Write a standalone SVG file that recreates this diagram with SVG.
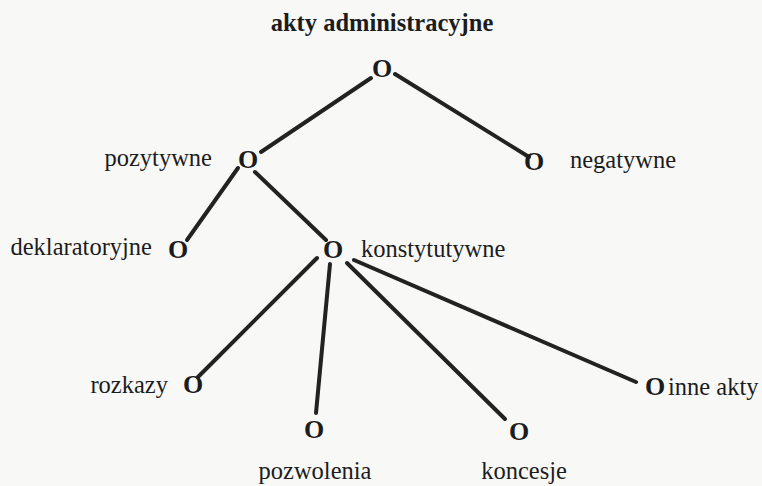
<svg xmlns="http://www.w3.org/2000/svg" width="762" height="486" viewBox="0 0 762 486">
<style>
.bg{fill:#f8f8f7}
text{font-family:'Liberation Serif','DejaVu Serif',serif;fill:#1c1c1c}
.t{font-size:24.5px}
.b{font-weight:bold}
.o{font-size:26px;font-weight:bold;text-anchor:middle}
.e{stroke:#222;stroke-width:4;stroke-linecap:round;fill:none}
</style>
<rect class="bg" x="0" y="0" width="762" height="486"/>
<text class="t b" x="382" y="31" text-anchor="middle">akty administracyjne</text>
<g id="connectors">
<line class="e" x1="371" y1="78" x2="261" y2="152"/>
<line class="e" x1="395" y1="74" x2="529" y2="157"/>
<line class="e" x1="238" y1="168" x2="187" y2="240"/>
<line class="e" x1="255" y1="172" x2="326" y2="240"/>
<line class="e" x1="317" y1="258" x2="198" y2="377"/>
<line class="e" x1="330" y1="264" x2="316" y2="413"/>
<line class="e" x1="347" y1="263" x2="505" y2="419"/>
<line class="e" x1="354" y1="260" x2="636" y2="382"/>
</g>
<g id="n-root"><text class="o" x="382" y="77">O</text></g>
<g id="n-pozytywne"><text class="o" x="248" y="168">O</text><text class="t" x="212" y="166" text-anchor="end">pozytywne</text></g>
<g id="n-negatywne"><text class="o" x="534" y="170">O</text><text class="t" x="570" y="168">negatywne</text></g>
<g id="n-deklaratoryjne"><text class="o" x="178" y="258">O</text><text class="t" x="152" y="255" text-anchor="end">deklaratoryjne</text></g>
<g id="n-konstytutywne"><text class="o" x="333" y="258">O</text><text class="t" x="361" y="257">konstytutywne</text></g>
<g id="n-rozkazy"><text class="o" x="193" y="393">O</text><text class="t" x="168" y="393" text-anchor="end">rozkazy</text></g>
<g id="n-pozwolenia"><text class="o" x="314" y="438">O</text><text class="t" x="315" y="479" text-anchor="middle">pozwolenia</text></g>
<g id="n-koncesje"><text class="o" x="519" y="440">O</text><text class="t" x="524" y="479" text-anchor="middle">koncesje</text></g>
<g id="n-inne"><text class="o" x="655" y="395">O</text><text class="t" x="668" y="395">inne akty</text></g>
</svg>
